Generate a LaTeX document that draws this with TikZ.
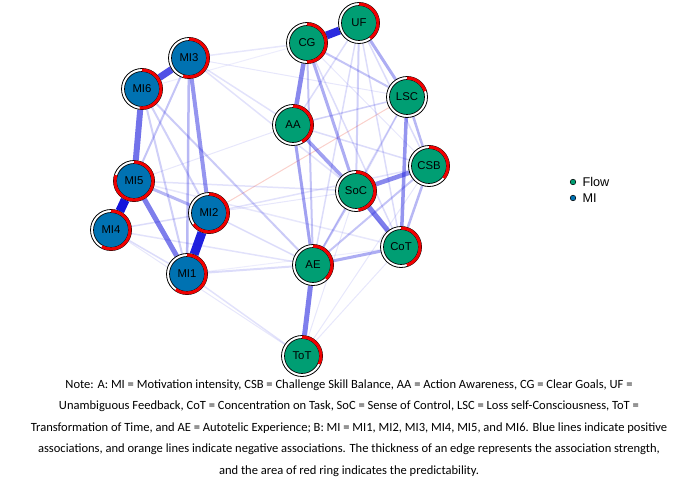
\documentclass[tikz,border=0pt]{standalone}
\usepackage{fontspec}
\setmainfont{Carlito}
\newfontfamily\labelfont{Liberation Sans}
\usetikzlibrary{backgrounds}

\definecolor{flowgreen}{RGB}{0,158,115}
\definecolor{miblue}{RGB}{0,114,178}
\definecolor{posedge}{RGB}{20,20,220}
\definecolor{negedge}{RGB}{235,70,50}
\definecolor{ringred}{RGB}{240,0,0}

\tikzset{every picture/.style={line width=0.75pt}}
\tikzset{
  ring/.style={circle, draw=black, line width=0.6pt, fill=white, minimum size=30.75pt, inner sep=0pt,
    font=\labelfont\fontsize{8.5}{9}\selectfont,
    path picture={\draw[black, line width=0.5pt, fill=#1] (path picture bounding box.center) circle (17.5);}},
  flow node/.style={ring=flowgreen},
  mi node/.style={ring=miblue},
  pos edge/.style={draw=posedge},
  neg edge/.style={draw=negedge},
  key dot/.style={circle, draw=black, line width=0.4pt, minimum size=4.2pt, inner sep=0pt},
  key text/.style={anchor=west, inner sep=0.75pt, font=\labelfont\fontsize{9.5}{11}\selectfont}
}
% red ring = predictability, clockwise from the top
\newcommand{\predring}[2]{\draw[ringred, line width=2.25pt] (#1.center) ++(-90:19) arc[start angle=-90, end angle={-90+360*#2}, radius=19];}

\begin{document}
\begin{tikzpicture}[x=0.75pt,y=0.75pt,yscale=-1,xscale=1]
\useasboundingbox (0,0) rectangle (698,478);

% MI nodes
\node [mi node] (MI3) at (189,58) {MI3};
\node [mi node] (MI6) at (142,89) {MI6};
\node [mi node] (MI5) at (134,181) {MI5};
\node [mi node] (MI4) at (111,230) {MI4};
\node [mi node] (MI2) at (209,213) {MI2};
\node [mi node] (MI1) at (187,274) {MI1};
% Flow nodes
\node [flow node] (CG) at (307,43) {CG};
\node [flow node] (UF) at (359,23) {UF};
\node [flow node] (LSC) at (407,97) {LSC};
\node [flow node] (AA) at (293,125) {AA};
\node [flow node] (CSB) at (429,166) {CSB};
\node [flow node] (SoC) at (356,191) {SoC};
\node [flow node] (CoT) at (401,247) {CoT};
\node [flow node] (AE) at (313,265) {AE};
\node [flow node] (ToT) at (302,356) {ToT};

% Predictability rings
\predring{MI3}{0.55}
\predring{MI6}{0.52}
\predring{MI5}{0.80}
\predring{MI4}{0.58}
\predring{MI2}{0.65}
\predring{MI1}{0.60}
\predring{CG}{0.50}
\predring{UF}{0.40}
\predring{LSC}{0.20}
\predring{AA}{0.42}
\predring{CSB}{0.36}
\predring{SoC}{0.48}
\predring{CoT}{0.45}
\predring{AE}{0.38}
\predring{ToT}{0.32}

% Edges
\begin{scope}[on background layer]
\draw [neg edge, line width=0.75pt, draw opacity=0.25] (MI2) -- (LSC);
\foreach \a/\b/\w/\o in {MI3/CG/1.5/0.1, MI3/AA/1.5/0.12, MI3/SoC/1.5/0.12, MI3/LSC/1/0.1,
    MI6/CG/1/0.08, MI5/AA/1/0.1, MI5/SoC/1.5/0.12, MI5/CoT/1.5/0.1, MI4/AE/1.5/0.12,
    MI4/ToT/1/0.1, MI1/AE/2/0.15, MI1/ToT/1.5/0.12, MI1/CoT/1/0.08, MI2/AE/1.5/0.15,
    MI2/CSB/1.5/0.12, MI2/SoC/1/0.1, MI4/MI1/1.5/0.15, MI4/MI2/1.5/0.15, MI6/MI2/2/0.2,
    MI6/MI1/2/0.2, MI6/AE/2/0.22, MI3/MI5/2/0.25, MI3/MI1/2.5/0.3, MI5/MI2/3/0.3,
    AA/CoT/1/0.1, ToT/CoT/1/0.1, ToT/SoC/1/0.1, ToT/CSB/1/0.1, CG/CSB/1/0.1,
    UF/AA/1.5/0.15, UF/CoT/1.5/0.15, CG/CoT/1.5/0.15, AE/LSC/1.5/0.15, AE/UF/1.5/0.15,
    AA/LSC/1.5/0.2, AA/CSB/1.5/0.15, UF/CSB/1.5/0.15, LSC/SoC/1.5/0.15, CG/AE/2/0.25,
    CG/LSC/2/0.25, UF/SoC/2/0.2, AE/SoC/2/0.25, AE/CSB/2/0.25, CSB/CoT/2.5/0.3,
    LSC/CSB/2.5/0.3, AE/CoT/3/0.35, AA/AE/3/0.4, CG/SoC/3/0.35, UF/LSC/3/0.35,
    LSC/CoT/3.5/0.45, AA/SoC/3.5/0.4, CG/AA/4.5/0.5, SoC/CSB/4.5/0.5, SoC/CoT/5/0.55,
    AE/ToT/5/0.55, MI3/MI2/4/0.45, MI5/MI1/5/0.55, MI6/MI5/6/0.6, MI3/MI6/7/0.75,
    CG/UF/8/0.9, MI2/MI1/9/0.95, MI5/MI4/9/1}
  \draw [pos edge, line width=\w*0.75pt, draw opacity=\o] (\a) -- (\b);
\end{scope}

% Legend
\node [key dot, fill=flowgreen] (flowdot) at (573,182) {};
\node [key text] (flowkey) at (581,182) {Flow};
\node [key dot, fill=miblue] (midot) at (573,198) {};
\node [key text] (mikey) at (581,198) {MI};

% Text Node
\node [anchor=north, align=center, inner sep=0pt, font=\fontsize{9.4}{16.1}\selectfont] (note) at (349,379) {Note: A: MI = Motivation intensity, CSB = Challenge Skill Balance, AA = Action Awareness, CG = Clear Goals, UF =\\
Unambiguous Feedback, CoT = Concentration on Task, SoC = Sense of Control, LSC = Loss self-Consciousness, ToT =\\
Transformation of Time, and AE = Autotelic Experience; B: MI = MI1, MI2, MI3, MI4, MI5, and MI6. Blue lines indicate positive\\
associations, and orange lines indicate negative associations. The thickness of an edge represents the association strength,\\
and the area of red ring indicates the predictability.};

\end{tikzpicture}
\end{document}
